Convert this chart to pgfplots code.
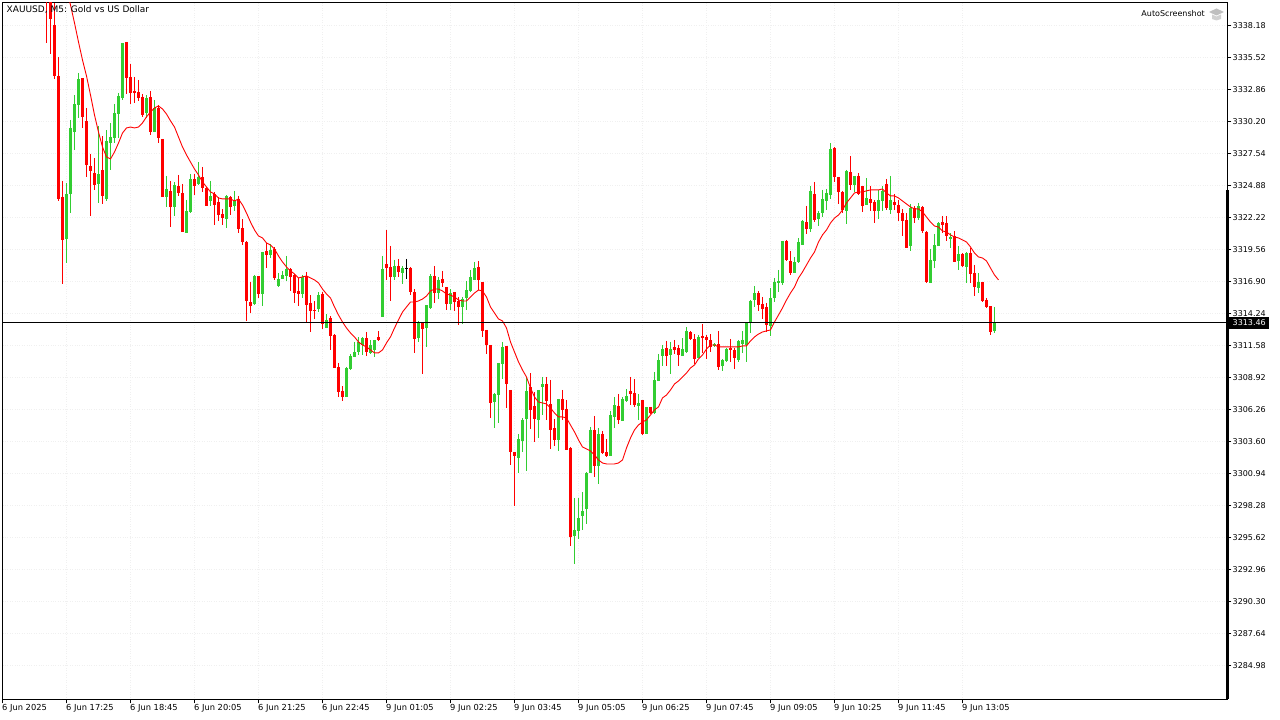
\documentclass[border=0pt]{standalone}
\usepackage{pgfplots}
\usepackage{pgfplotstable}
\usepackage{fontspec}
\setmainfont{DejaVu Sans}
\pgfplotsset{compat=1.18}
\definecolor{upc}{HTML}{32CD32}
\definecolor{dnc}{HTML}{FF0000}
\pgfplotstableread{
x top bot high low
0 3341.96 3340.72 3342.38 3336.73
1 3340.72 3338.72 3341.00 3335.81
2 3338.22 3333.98 3340.05 3333.73
3 3333.98 3323.76 3335.56 3323.60
4 3323.93 3320.35 3325.26 3316.70
9 3333.81 3330.58 3333.81 3329.66
10 3330.25 3326.58 3331.32 3325.59
11 3326.50 3326.09 3327.50 3322.34
12 3325.92 3324.92 3327.16 3324.51
14 3326.17 3324.01 3328.99 3323.35
20 3336.81 3333.81 3336.81 3332.49
21 3333.90 3332.57 3334.98 3331.66
22 3332.74 3332.57 3333.90 3331.74
23 3332.65 3332.15 3333.65 3331.91
24 3332.24 3330.74 3332.49 3330.58
26 3332.24 3329.32 3332.74 3329.07
28 3331.32 3328.83 3331.57 3328.41
29 3328.75 3323.93 3328.75 3323.93
31 3324.43 3323.10 3325.26 3321.43
33 3324.84 3324.26 3325.75 3324.01
34 3324.26 3321.01 3325.01 3321.01
37 3325.42 3324.84 3325.84 3324.09
39 3325.59 3324.67 3326.42 3324.34
40 3324.67 3323.18 3324.76 3323.18
42 3324.18 3323.26 3324.34 3321.60
43 3323.51 3322.42 3323.93 3321.93
44 3322.51 3322.17 3322.93 3321.60
46 3323.93 3323.10 3324.01 3322.42
48 3323.76 3321.26 3324.01 3320.93
49 3321.35 3320.18 3322.09 3319.93
50 3320.18 3315.28 3320.27 3313.62
51 3315.19 3314.86 3316.86 3314.28
53 3317.36 3315.86 3317.36 3315.53
55 3319.44 3319.10 3320.10 3318.02
57 3319.60 3317.19 3319.77 3317.03
61 3317.94 3317.28 3318.02 3316.11
62 3317.44 3315.94 3317.53 3315.11
63 3316.11 3315.86 3317.19 3314.86
65 3317.36 3314.94 3317.69 3313.45
66 3315.11 3314.45 3315.77 3312.70
67 3314.53 3314.45 3315.28 3313.78
69 3315.86 3313.37 3316.02 3312.95
71 3313.87 3312.37 3314.03 3311.21
72 3312.45 3309.71 3312.53 3309.71
73 3309.79 3307.71 3310.13 3307.30
74 3307.80 3307.30 3308.21 3306.97
80 3312.20 3311.04 3312.70 3310.71
83 3312.29 3312.04 3312.79 3311.96
85 3318.36 3318.02 3321.18 3317.03
86 3318.11 3317.28 3319.85 3315.28
88 3318.19 3317.69 3318.77 3317.28
91 3318.02 3316.02 3318.11 3315.77
92 3316.02 3312.12 3316.27 3310.96
94 3313.53 3312.95 3313.53 3309.21
97 3317.36 3315.94 3318.19 3315.11
99 3317.11 3316.78 3317.78 3316.44
100 3316.44 3315.03 3316.44 3314.53
102 3316.02 3315.19 3316.02 3314.45
103 3315.28 3314.78 3315.61 3313.28
108 3318.11 3317.03 3318.61 3316.19
109 3316.86 3312.79 3316.86 3312.29
110 3312.87 3311.62 3312.87 3310.88
111 3311.62 3306.80 3311.62 3305.55
115 3311.54 3308.38 3311.54 3306.38
116 3307.88 3302.73 3307.88 3301.65
117 3302.73 3302.39 3302.73 3298.24
121 3308.13 3306.22 3309.29 3304.64
122 3306.55 3305.47 3307.71 3303.56
125 3308.38 3306.97 3308.96 3305.39
126 3306.72 3304.56 3308.71 3302.98
127 3304.72 3303.73 3305.47 3303.23
129 3307.13 3306.22 3307.88 3305.39
130 3306.30 3302.89 3307.05 3302.89
131 3303.06 3295.66 3303.14 3294.91
137 3304.56 3301.56 3305.72 3300.65
139 3304.23 3302.64 3304.48 3302.56
140 3302.73 3302.39 3303.81 3302.31
143 3306.55 3305.39 3307.55 3305.06
146 3307.80 3307.55 3308.96 3306.63
147 3307.63 3306.63 3308.79 3306.47
149 3307.05 3304.23 3307.05 3304.14
151 3306.47 3305.97 3306.47 3305.89
155 3311.37 3310.71 3311.96 3309.88
157 3311.46 3311.21 3312.04 3310.88
158 3311.37 3310.79 3311.62 3309.88
161 3312.70 3312.12 3312.79 3312.04
162 3312.12 3310.46 3312.53 3310.05
164 3312.37 3312.20 3313.37 3310.96
165 3312.29 3312.04 3312.45 3310.46
166 3312.04 3311.46 3312.53 3311.04
168 3311.71 3309.79 3312.79 3309.54
171 3311.37 3311.21 3312.12 3310.21
172 3311.21 3310.55 3311.37 3309.63
178 3315.94 3314.94 3316.11 3314.45
179 3315.03 3314.61 3315.61 3313.78
180 3314.78 3313.28 3315.11 3312.70
185 3320.27 3318.69 3320.35 3318.61
186 3318.61 3317.61 3319.44 3317.44
190 3321.84 3321.26 3323.18 3320.85
192 3324.18 3322.01 3325.17 3321.84
197 3328.00 3325.59 3328.08 3325.17
198 3325.59 3324.34 3325.59 3323.35
199 3324.34 3322.84 3324.43 3322.59
201 3326.00 3324.92 3327.33 3324.51
203 3325.67 3324.18 3325.92 3324.09
204 3324.84 3323.18 3324.84 3322.68
206 3323.76 3323.43 3324.84 3322.76
207 3323.51 3322.76 3323.68 3321.76
210 3325.01 3323.01 3325.42 3322.84
212 3323.51 3323.26 3324.18 3322.84
213 3323.26 3322.59 3323.68 3321.93
214 3322.59 3321.93 3322.93 3320.68
215 3322.01 3319.68 3322.59 3319.68
217 3323.01 3322.17 3323.18 3321.76
219 3323.10 3321.10 3323.18 3320.93
220 3321.01 3316.86 3321.10 3316.78
224 3321.84 3321.60 3322.34 3320.93
225 3321.76 3320.68 3322.34 3320.27
227 3320.68 3318.52 3321.10 3318.52
229 3319.19 3318.19 3319.27 3318.11
231 3319.27 3317.53 3319.68 3316.78
232 3317.61 3316.44 3318.27 3315.69
234 3316.86 3315.28 3316.86 3315.19
235 3315.36 3314.78 3315.53 3314.70
236 3314.86 3312.70 3314.86 3312.45
}\redbars
\pgfplotstableread{
x top bot high low
5 3324.18 3320.43 3325.09 3318.44
6 3329.66 3324.18 3330.33 3322.59
7 3331.66 3329.32 3332.40 3327.83
8 3333.73 3331.57 3334.23 3330.49
13 3325.84 3325.01 3329.83 3323.43
15 3328.58 3323.76 3329.49 3323.60
16 3328.91 3328.41 3330.08 3326.17
17 3330.91 3328.83 3331.66 3328.41
18 3332.32 3330.82 3332.57 3328.83
19 3336.73 3332.15 3336.73 3331.99
25 3332.15 3330.91 3332.40 3330.49
27 3331.32 3329.32 3331.99 3329.32
30 3324.59 3323.93 3325.67 3323.10
32 3324.92 3323.10 3325.17 3322.34
35 3322.76 3320.93 3323.68 3320.93
36 3325.42 3322.68 3325.84 3322.59
38 3325.59 3325.01 3326.83 3324.92
41 3324.01 3323.60 3325.26 3323.18
45 3324.01 3322.09 3324.09 3321.35
47 3323.60 3323.18 3324.43 3322.76
52 3317.36 3315.03 3317.44 3314.94
54 3319.35 3315.86 3319.35 3314.86
56 3319.52 3319.10 3320.02 3318.85
58 3317.11 3316.53 3317.61 3316.44
59 3317.44 3317.11 3317.78 3317.11
60 3317.94 3317.36 3319.02 3316.94
64 3317.28 3315.86 3317.44 3315.53
68 3315.77 3314.61 3316.02 3314.36
70 3313.70 3313.03 3314.20 3313.03
75 3309.71 3307.30 3309.79 3307.30
76 3310.71 3309.63 3310.88 3309.54
77 3311.04 3310.63 3311.87 3310.63
78 3311.87 3311.04 3312.29 3310.79
79 3312.20 3311.62 3312.29 3310.79
81 3311.62 3310.96 3312.04 3310.88
82 3312.04 3311.21 3312.04 3310.63
84 3317.94 3313.95 3319.02 3313.95
87 3318.19 3317.28 3318.69 3317.03
89 3318.02 3317.61 3318.19 3316.70
93 3313.45 3312.20 3313.62 3311.87
95 3314.94 3313.03 3314.94 3311.46
96 3317.36 3314.70 3317.53 3314.61
98 3317.03 3315.94 3317.28 3315.44
101 3315.94 3315.03 3316.27 3314.53
104 3315.44 3314.78 3315.61 3313.37
105 3316.19 3315.53 3316.94 3314.53
106 3317.28 3316.11 3317.86 3316.02
107 3318.02 3317.03 3318.52 3317.03
112 3307.55 3306.88 3307.63 3304.72
113 3310.13 3307.46 3310.13 3305.14
114 3311.46 3310.04 3311.87 3308.80
118 3303.81 3302.23 3304.23 3300.98
119 3305.39 3303.64 3305.55 3302.73
120 3307.80 3305.47 3308.96 3301.15
123 3307.88 3305.39 3307.88 3303.89
124 3308.38 3308.13 3308.96 3305.80
128 3307.13 3303.73 3307.13 3302.81
132 3296.24 3295.74 3298.90 3293.42
133 3297.24 3296.16 3298.90 3295.49
134 3297.83 3297.41 3299.40 3296.24
135 3300.98 3298.01 3301.06 3296.74
136 3304.56 3300.98 3304.81 3300.98
138 3304.23 3301.56 3304.72 3300.07
141 3305.80 3302.39 3306.14 3302.39
142 3306.63 3305.64 3307.30 3304.72
144 3307.13 3305.30 3307.30 3305.30
145 3307.38 3306.97 3307.96 3306.88
148 3306.80 3306.55 3307.55 3305.39
150 3306.47 3304.23 3306.47 3304.23
152 3308.71 3305.97 3309.38 3305.89
153 3310.38 3308.63 3310.88 3308.63
154 3311.29 3310.71 3311.62 3309.88
156 3311.29 3310.79 3311.87 3309.21
159 3311.29 3310.71 3312.20 3310.71
160 3312.79 3311.04 3313.12 3310.96
163 3312.29 3310.55 3312.45 3310.55
167 3311.71 3311.54 3311.79 3311.46
169 3310.38 3309.88 3310.46 3309.46
170 3311.29 3310.29 3311.37 3310.21
173 3311.96 3310.38 3312.04 3310.21
174 3312.04 3311.71 3312.79 3310.96
175 3313.53 3311.62 3313.53 3310.21
176 3315.28 3313.45 3315.36 3312.62
177 3315.94 3315.36 3316.53 3314.78
181 3315.53 3313.20 3316.36 3312.37
182 3316.86 3315.53 3317.19 3315.19
183 3316.94 3316.78 3317.86 3316.02
184 3320.27 3316.78 3320.27 3316.61
187 3318.52 3317.61 3318.94 3317.61
188 3320.18 3318.52 3320.52 3318.44
189 3321.93 3319.93 3322.01 3319.93
191 3324.43 3321.26 3324.84 3321.01
193 3322.59 3322.09 3322.76 3321.51
194 3323.76 3322.59 3324.51 3322.26
195 3324.26 3323.60 3324.59 3322.84
196 3327.91 3324.09 3328.41 3323.76
200 3326.09 3322.76 3326.17 3321.68
202 3325.67 3324.92 3325.67 3324.34
205 3323.84 3323.26 3325.50 3323.26
208 3323.68 3322.76 3324.51 3322.09
209 3324.43 3323.60 3324.84 3322.76
211 3323.68 3322.84 3325.67 3322.51
216 3323.01 3319.85 3323.35 3319.44
218 3323.18 3322.17 3323.43 3322.01
221 3318.69 3316.78 3319.60 3316.78
222 3319.93 3318.61 3320.85 3318.02
223 3321.76 3319.85 3321.84 3319.85
226 3320.60 3320.43 3320.93 3319.68
228 3319.19 3318.61 3319.85 3317.86
230 3319.27 3318.11 3319.35 3316.78
233 3316.86 3316.36 3317.61 3315.94
237 3313.45 3312.79 3314.78 3312.62
}\greenbars
\pgfplotstableread{
x top bot high low
90 3318.02 3317.97 3318.77 3317.11
}\blackbars
\pgfplotstableread{
x y
5 3341.30
6 3339.88
7 3338.39
8 3336.81
9 3335.31
10 3333.98
11 3332.40
12 3330.74
13 3329.32
14 3328.08
15 3327.25
16 3327.08
17 3327.66
18 3328.41
19 3329.24
20 3329.66
21 3329.74
22 3329.66
23 3329.74
24 3330.08
25 3330.58
26 3330.99
27 3331.32
28 3331.49
29 3331.24
30 3330.82
31 3330.25
32 3329.74
33 3328.91
34 3328.08
35 3327.42
36 3326.83
37 3326.25
38 3325.75
39 3325.17
40 3324.76
41 3324.34
42 3324.18
43 3323.84
44 3323.76
45 3323.76
46 3323.76
47 3323.60
48 3323.76
49 3323.26
50 3322.59
51 3321.84
52 3321.18
53 3320.68
54 3320.52
55 3320.10
56 3319.93
57 3319.60
58 3319.02
59 3318.52
60 3318.11
61 3317.78
62 3317.53
63 3317.19
64 3317.28
65 3317.36
66 3317.19
67 3317.03
68 3316.78
69 3316.27
70 3315.86
71 3315.53
72 3314.78
73 3314.11
74 3313.53
75 3313.03
76 3312.62
77 3312.29
78 3311.87
79 3311.62
80 3311.46
81 3311.21
82 3310.96
83 3310.96
84 3311.21
85 3311.79
86 3312.29
87 3313.03
88 3313.70
89 3314.36
90 3314.78
91 3315.19
92 3315.19
93 3315.28
94 3315.44
95 3315.69
96 3316.11
97 3316.27
98 3316.27
99 3316.11
100 3315.86
101 3315.77
102 3315.61
103 3315.36
104 3315.28
105 3315.28
106 3315.61
107 3315.94
108 3316.19
109 3316.11
110 3315.61
111 3314.78
112 3314.28
113 3313.78
114 3313.62
115 3313.03
116 3311.87
117 3311.04
118 3310.21
119 3309.54
120 3308.96
121 3308.05
122 3307.30
123 3306.88
124 3306.80
125 3306.72
126 3306.38
127 3305.97
128 3305.64
129 3305.64
130 3305.55
131 3304.97
132 3304.39
133 3303.73
134 3303.14
135 3302.98
136 3302.81
137 3302.48
138 3302.06
139 3301.81
140 3301.73
141 3301.73
142 3301.73
143 3301.81
144 3302.06
145 3303.06
146 3303.89
147 3304.56
148 3304.97
149 3305.22
150 3305.39
151 3305.80
152 3306.22
153 3306.47
154 3307.22
155 3307.46
156 3307.88
157 3308.38
158 3308.63
159 3308.96
160 3309.29
161 3309.71
162 3309.96
163 3310.46
164 3310.79
165 3311.29
166 3311.62
167 3311.62
168 3311.46
169 3311.46
170 3311.46
171 3311.46
172 3311.46
173 3311.46
174 3311.54
175 3311.54
176 3311.96
177 3312.29
178 3312.53
179 3312.70
180 3312.79
181 3312.87
182 3313.53
183 3314.11
184 3314.70
185 3315.36
186 3315.94
187 3316.44
188 3317.19
189 3317.69
190 3318.27
191 3318.85
192 3319.35
193 3320.18
194 3320.77
195 3321.18
196 3321.76
197 3322.17
198 3322.42
199 3322.84
200 3323.43
201 3323.84
202 3324.26
203 3324.34
204 3324.34
205 3324.43
206 3324.51
207 3324.51
208 3324.51
209 3324.59
210 3324.26
211 3324.01
212 3324.01
213 3323.84
214 3323.59
215 3323.34
216 3323.09
217 3322.93
218 3322.93
219 3322.68
220 3322.26
221 3321.84
222 3321.51
223 3321.43
224 3321.10
225 3321.01
226 3320.77
227 3320.60
228 3320.52
229 3320.35
230 3320.18
231 3319.77
232 3319.27
233 3318.94
234 3318.85
235 3318.61
236 3318.02
237 3317.44
238 3317.03
}\matable
\newcommand{\candles}[2]{%
  \addplot[draw=none, no markers, forget plot,
    error bars/.cd, y dir=minus, y explicit, error mark=none,
    error bar style={draw=#2, line width=1pt}]
    table[x=x, y=high, y error minus expr=\thisrow{high}-\thisrow{low}] {#1};
  \addplot[draw=none, no markers, forget plot,
    error bars/.cd, y dir=minus, y explicit, error mark=none,
    error bar style={draw=#2, line width=3pt}]
    table[x=x, y=top, y error minus expr=\thisrow{top}-\thisrow{bot}] {#1};
}
\begin{document}
\begin{tikzpicture}[x=1pt,y=1pt]
\useasboundingbox (0,0) rectangle (1280,720);
\begin{axis}[
  at={(2.5pt,20.5pt)}, anchor=south west,
  scale only axis, width=1225pt, height=697pt,
  xmin=-11, xmax=295.25, ymin=3282.15, ymax=3340.09,
  axis line style={line width=1pt, black},
  tick style={line width=1pt, black},
  major tick length=4pt, tick align=outside,
  xtick pos=bottom, ytick pos=right,
  xtick={-11,5,21,37,53,69,85,101,117,133,149,165,181,197,213,229},
  xticklabels={6 Jun 2025,6 Jun 17:25,6 Jun 18:45,6 Jun 20:05,6 Jun 21:25,6 Jun 22:45,9 Jun 01:05,9 Jun 02:25,9 Jun 03:45,9 Jun 05:05,9 Jun 06:25,9 Jun 07:45,9 Jun 09:05,9 Jun 10:25,9 Jun 11:45,9 Jun 13:05},
  ytick={3338.18,3335.52,3332.86,3330.20,3327.54,3324.88,3322.22,3319.56,3316.90,3314.24,3311.58,3308.92,3306.26,3303.60,3300.94,3298.28,3295.62,3292.96,3290.30,3287.64,3284.98},
  yticklabels={3338.18,3335.52,3332.86,3330.20,3327.54,3324.88,3322.22,3319.56,3316.90,3314.24,3311.58,3308.92,3306.26,3303.60,3300.94,3298.28,3295.62,3292.96,3290.30,3287.64,3284.98},
  xticklabel style={anchor=north west, inner sep=0pt, font=\fontsize{8.3}{10}\selectfont, xshift=-0.5pt, yshift=-0.5pt},
  yticklabel style={anchor=west, inner sep=1pt, font=\fontsize{8}{10}\selectfont},
  grid=major, grid style={dotted, line width=0.6pt, black!6},
]
\candles{\greenbars}{upc}
\candles{\redbars}{dnc}
\candles{\blackbars}{black}
\addplot[no marks, line width=0.9pt, dnc, line join=round] table[x=x,y=y] {\matable};
\addplot[no marks, line width=1pt, black] coordinates {(-11,3313.46) (295.25,3313.46)};
\end{axis}
\fill[black] (1225.5,20.5) rectangle (1229,530);
\fill[black] (1229,391) rectangle (1269,403);
\node[anchor=west, inner sep=0pt, text=white, font=\fontsize{8}{10}\selectfont] at (1232.5,397) {3313.46};
\node[anchor=west, inner sep=0pt, font=\fontsize{9}{10}\selectfont] at (6.5,710) {XAUUSD, M5: Gold vs US Dollar};
\node[anchor=east, inner sep=0pt, font=\fontsize{8}{10}\selectfont] at (1205,706) {AutoScreenshot};
\fill[black!25] (1209,708) -- (1216.5,711.5) -- (1224,708) -- (1216.5,704.5) -- cycle;
\fill[black!18] (1212,705.5) -- (1216.5,703.5) -- (1221,705.5) -- (1221,701) -- (1216.5,699.5) -- (1212,701) -- cycle;
\end{tikzpicture}
\end{document}
